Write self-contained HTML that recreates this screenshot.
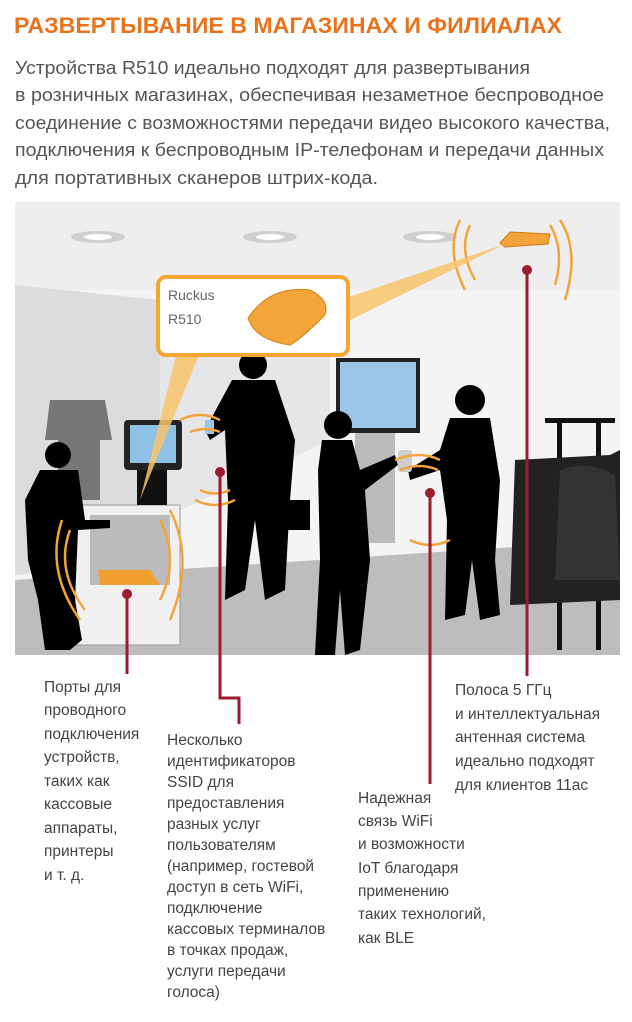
<!DOCTYPE html>
<html><head><meta charset="utf-8"><style>
html,body{margin:0;padding:0;background:#fff;}
body{width:632px;height:1017px;overflow:hidden;}
svg text{font-family:"Liberation Sans",sans-serif;}
</style></head><body>
<svg width="632" height="1017" viewBox="0 0 632 1017" xmlns="http://www.w3.org/2000/svg">
<text x="14" y="33" font-size="22" font-weight="bold" fill="#e8731c" textLength="548" lengthAdjust="spacingAndGlyphs">РАЗВЕРТЫВАНИЕ В МАГАЗИНАХ И ФИЛИАЛАХ</text>
<g font-size="18" fill="#555">
<text x="15" y="74" textLength="515" lengthAdjust="spacingAndGlyphs">Устройства R510 идеально подходят для развертывания</text>
<text x="15" y="101" textLength="589" lengthAdjust="spacingAndGlyphs">в розничных магазинах, обеспечивая незаметное беспроводное</text>
<text x="15" y="129" textLength="595" lengthAdjust="spacingAndGlyphs">соединение с возможностями передачи видео высокого качества,</text>
<text x="15" y="156" textLength="589" lengthAdjust="spacingAndGlyphs">подключения к беспроводным IP-телефонам и передачи данных</text>
<text x="15" y="184" textLength="363" lengthAdjust="spacingAndGlyphs">для портативных сканеров штрих-кода.</text>
</g>
<!-- scene -->
<rect x="15" y="202" width="605" height="453" fill="#f4f4f5"/>
<rect x="15" y="202" width="605" height="88" fill="#eeeeef"/>
<polygon points="15,285 160,300 160,560 15,575" fill="#dcdcde"/>
<polygon points="160,300 330,300 330,440 160,520" fill="#e6e6e8"/>
<polygon points="15,580 620,540 620,655 15,655" fill="#bdbdbf"/>
<ellipse cx="98" cy="237" rx="27" ry="6" fill="#cfcfd1"/><ellipse cx="98" cy="237" rx="14" ry="3" fill="#fff"/>
<ellipse cx="270" cy="237" rx="27" ry="6" fill="#cfcfd1"/><ellipse cx="270" cy="237" rx="14" ry="3" fill="#fff"/>
<ellipse cx="430" cy="237" rx="27" ry="6" fill="#cfcfd1"/><ellipse cx="430" cy="237" rx="14" ry="3" fill="#fff"/>
<!-- monitor -->
<rect x="336" y="358" width="84" height="75" fill="#222"/>
<rect x="340" y="362" width="76" height="66" fill="#9cc6e8"/>
<rect x="355" y="433" width="40" height="110" fill="#bbb"/>
<!-- clothes rack -->
<rect x="557" y="420" width="5" height="230" fill="#111"/><rect x="596" y="420" width="5" height="230" fill="#111"/>
<rect x="545" y="418" width="70" height="5" fill="#111"/>
<path d="M515 460 L610 455 L620 450 L620 600 L510 605 Z" fill="#222"/>
<path d="M560 470 Q590 460 615 475 L620 580 L555 580 Z" fill="#333"/>
<!-- left rack shirt -->
<path d="M50 400 L105 400 L112 440 L100 440 L100 500 L58 500 L58 440 L45 440 Z" fill="#777"/>
<!-- kiosk -->
<rect x="75" y="505" width="105" height="140" fill="#f0f0f0" stroke="#999"/>
<rect x="90" y="515" width="80" height="70" fill="#bbb"/>
<path d="M98 570 L150 570 L160 585 L100 585 Z" fill="#f0a030"/>
<rect x="124" y="420" width="58" height="50" rx="4" fill="#222"/>
<rect x="130" y="425" width="46" height="38" fill="#8fc0e6"/>
<rect x="137" y="470" width="30" height="35" fill="#111"/>
<!-- silhouettes -->
<g fill="#000">
<circle cx="58" cy="455" r="13"/>
<path d="M40 470 L78 470 L85 520 L110 520 L110 528 L78 530 L75 600 L82 640 L70 650 L45 650 L38 600 L28 560 L25 500 Z"/>
<circle cx="253" cy="365" r="14"/>
<path d="M232 380 L275 380 L295 440 L290 500 L285 590 L265 600 L255 520 L245 590 L225 600 L228 500 L225 430 L210 440 L205 430 Z"/>
<rect x="285" y="500" width="25" height="30"/>
<circle cx="338" cy="425" r="14"/>
<path d="M322 440 L352 440 L360 470 L395 455 L398 465 L365 490 L370 560 L360 650 L345 655 L340 590 L335 655 L315 655 L320 560 L318 470 Z"/>
<circle cx="470" cy="400" r="15"/>
<path d="M450 418 L490 418 L500 480 L495 560 L500 615 L480 620 L472 560 L465 615 L445 620 L447 520 L440 470 L410 480 L408 470 L440 450 Z"/>
</g>
<rect x="205" y="420" width="9" height="14" fill="#9cc6e8"/>
<rect x="398" y="450" width="14" height="22" rx="3" fill="#ccc"/>
<!-- waves -->
<g fill="none" stroke="#f2a33a" stroke-width="2.5">
<path d="M180 420 Q200 410 220 420"/><path d="M190 432 Q205 426 220 432"/>
<path d="M195 500 Q215 510 235 500"/><path d="M200 490 Q215 497 230 490"/>
<path d="M395 460 Q420 450 440 460"/><path d="M400 470 Q420 462 438 470"/>
<path d="M410 540 Q430 550 450 540"/>
<path d="M70 530 Q55 570 85 610"/><path d="M62 520 Q45 570 80 620"/>
<path d="M160 520 Q180 560 160 600"/><path d="M170 510 Q195 560 170 620"/>
<path d="M460 220 Q445 250 465 290"/><path d="M470 225 Q458 250 475 280"/>
<path d="M560 220 Q580 250 565 300"/><path d="M550 225 Q565 250 555 285"/>
</g>
<!-- ceiling AP -->
<polygon points="500,243 510,232 550,234 548,244 505,247" fill="#f2a33a" stroke="#d07a10"/>
<!-- callout -->
<polygon points="340,300 505,244 340,325" fill="#f7c36b" opacity="0.85"/>
<polygon points="180,340 205,340 140,500" fill="#f7c36b" opacity="0.85"/>
<rect x="158" y="277" width="190" height="78" rx="8" fill="#fff" stroke="#f5a532" stroke-width="4"/>
<text x="168" y="300" font-size="14" fill="#666">Ruckus</text>
<text x="168" y="324" font-size="14" fill="#666">R510</text>
<path d="M248 318 Q270 285 310 290 Q330 300 325 315 Q300 340 290 345 Q255 340 248 318 Z" fill="#f3a53a" stroke="#d4801b"/>
<!-- connectors -->
<g fill="none" stroke="#9b1b30" stroke-width="3">
<path d="M127 594 V674"/><path d="M220 472 V698 H239 V724"/><path d="M430 493 V784"/><path d="M527 270 V676"/>
</g>
<g fill="#9b1b30"><circle cx="127" cy="594" r="5"/><circle cx="220" cy="472" r="5"/><circle cx="430" cy="493" r="5"/><circle cx="527" cy="270" r="5"/></g>
<!-- labels -->
<g font-size="15.5" fill="#444">
<text x="44" y="692">Порты для</text><text x="44" y="715">проводного</text><text x="44" y="739">подключения</text><text x="44" y="762">устройств,</text><text x="44" y="786">таких как</text><text x="44" y="809">кассовые</text><text x="44" y="833">аппараты,</text><text x="44" y="856">принтеры</text><text x="44" y="880">и т. д.</text>
<g transform="translate(0,745)">
<text x="167" y="0">Несколько</text><text x="167" y="21">идентификаторов</text><text x="167" y="42">SSID для</text><text x="167" y="63">предоставления</text><text x="167" y="84">разных услуг</text><text x="167" y="105">пользователям</text><text x="167" y="126">(например, гостевой</text><text x="167" y="147">доступ в сеть WiFi,</text><text x="167" y="168">подключение</text><text x="167" y="189">кассовых терминалов</text><text x="167" y="210">в точках продаж,</text><text x="167" y="231">услуги передачи</text><text x="167" y="252">голоса)</text>
</g>
<text x="358" y="803">Надежная</text><text x="358" y="826">связь WiFi</text><text x="358" y="849">и возможности</text><text x="358" y="873">IoT благодаря</text><text x="358" y="896">применению</text><text x="358" y="919">таких технологий,</text><text x="358" y="943">как BLE</text>
<text x="455" y="695">Полоса 5 ГГц</text><text x="455" y="719">и интеллектуальная</text><text x="455" y="742">антенная система</text><text x="455" y="766">идеально подходят</text><text x="455" y="790">для клиентов 11ac</text>
</g>
</svg>
</body></html>
